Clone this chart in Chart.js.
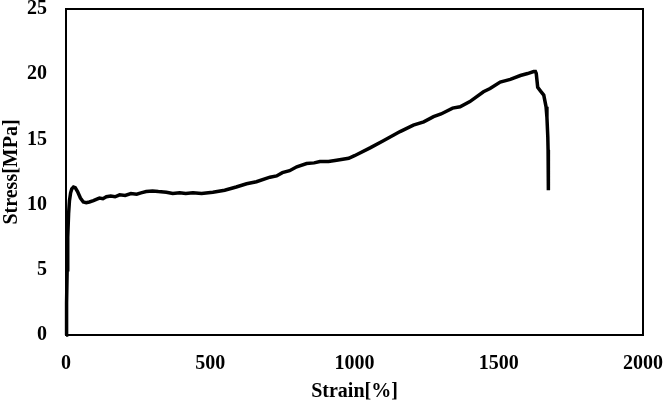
<!DOCTYPE html>
<html>
<head>
<meta charset="utf-8">
<script src="https://cdn.jsdelivr.net/npm/chart.js@4/dist/chart.umd.min.js"></script>
<style>
  html, body { margin: 0; padding: 0; background: #fff; }
  #wrap { width: 666px; height: 404px; }
</style>
</head>
<body>
<div id="wrap"><canvas id="chart"></canvas></div>
<script>
// 応力-ひずみ曲線
const strain = [0, 2, 4, 6, 9, 12, 16, 20, 26, 32, 40, 50, 60, 70, 81, 95, 105, 116, 128, 140, 155,
  170, 186, 205, 225, 245, 260, 278, 300, 320, 348, 370, 394, 415, 440, 470, 509, 550, 590, 626,
  660, 707, 730, 750, 775, 800, 834, 860, 880, 910, 938, 980, 1000, 1054, 1100, 1158, 1204, 1240,
  1274, 1300, 1340, 1366, 1400, 1447, 1470, 1505, 1540, 1575, 1600, 1621, 1627, 1630, 1635, 1645,
  1656, 1664, 1667, 1670, 1671, 1672];
const stress = [0, 2.5, 5, 7.5, 9.3, 10.3, 10.9, 11.2, 11.35, 11.3, 11.0, 10.5, 10.2, 10.15, 10.2,
  10.3, 10.4, 10.5, 10.45, 10.6, 10.65, 10.6, 10.75, 10.7, 10.85, 10.8, 10.9, 11.0, 11.05, 11.0,
  10.95, 10.85, 10.9, 10.85, 10.9, 10.85, 10.95, 11.1, 11.35, 11.6, 11.75, 12.1, 12.2, 12.45, 12.6,
  12.9, 13.15, 13.2, 13.3, 13.3, 13.4, 13.55, 13.75, 14.35, 14.9, 15.6, 16.1, 16.35, 16.75, 16.95,
  17.4, 17.5, 17.9, 18.65, 18.9, 19.4, 19.6, 19.9, 20.05, 20.2, 20.2, 20.05, 19.0, 18.7, 18.4, 17.5,
  16.7, 15.2, 14.2, 11.1];

const xTicks = [0, 500, 1000, 1500, 2000];
const yTicks = [0, 5, 10, 15, 20, 25];

const FONT = { family: "'Liberation Serif', 'Times New Roman', serif", size: 20, weight: 'bold' };

// プロット領域の枠線
const frame = {
    id: 'frame',
    afterDraw(chart) {
        const a = chart.chartArea;
        const ctx = chart.ctx;
        ctx.save();
        ctx.strokeStyle = '#000';
        ctx.lineWidth = 2;
        ctx.strokeRect(a.left, a.top, a.right - a.left, a.bottom - a.top);
        ctx.restore();
    }
};

new Chart(document.getElementById('chart'), {
    type: 'scatter',
    data: {
        datasets: [{
            data: strain.map((x, i) => ({ x, y: stress[i] })),
            showLine: true,
            borderColor: '#000',
            borderWidth: 3.5,
            pointRadius: 0,
            tension: 0,
            clip: false
        }]
    },
    options: {
        responsive: true,
        maintainAspectRatio: false,
        animation: false,
        layout: { padding: { top: 9, right: 23, left: 0, bottom: 0 } },
        plugins: { legend: { display: false }, tooltip: { enabled: false } },
        scales: {
            x: {
                type: 'linear',
                min: 0, max: 2000,
                afterBuildTicks: s => { s.ticks = xTicks.map(v => ({ value: v })); },
                afterFit: s => { s.height = 69; s.paddingLeft = 0; s.paddingRight = 0; },
                grid: { display: false, drawTicks: false },
                border: { display: false },
                ticks: { color: '#000', font: FONT, padding: 17, maxRotation: 0, callback: v => String(v) },
                title: { display: true, text: 'Strain[%]', color: '#000', font: FONT, padding: { top: 0, bottom: 0 } }
            },
            y: {
                type: 'linear',
                min: 0, max: 25,
                afterBuildTicks: s => { s.ticks = yTicks.map(v => ({ value: v })); },
                afterFit: s => { s.width = 66; s.paddingTop = 0; s.paddingBottom = 0; },
                grid: { display: false, drawTicks: false },
                border: { display: false },
                ticks: { color: '#000', font: FONT, padding: 19, callback: v => String(v) },
                title: { display: true, text: 'Stress[MPa]', color: '#000', font: FONT, padding: { top: 0, bottom: 0 } }
            }
        }
    },
    plugins: [frame]
});
</script>
</body>
</html>
